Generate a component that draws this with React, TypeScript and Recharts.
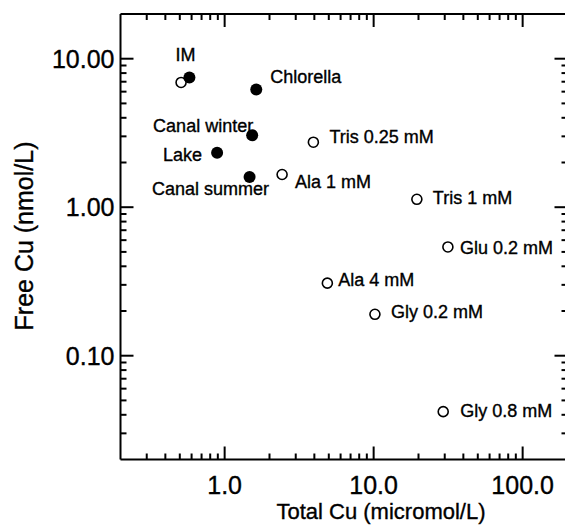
import { ScatterChart, Scatter, XAxis, YAxis } from 'recharts'

// field samples (filled) and ligand solutions (open)
const fieldNames = ['IM', 'Chlorella', 'Canal winter', 'Lake', 'Canal summer']
const fieldTotalCu = [0.58, 1.63, 1.53, 0.89, 1.47]
const fieldFreeCu = [7.47, 6.2, 3.05, 2.33, 1.6]

const ligandNames = ['IM', 'Ala 1 mM', 'Tris 0.25 mM', 'Tris 1 mM', 'Glu 0.2 mM', 'Ala 4 mM', 'Gly 0.2 mM', 'Gly 0.8 mM']
const ligandTotalCu = [0.51, 2.43, 3.94, 19.5, 31.5, 4.89, 10.2, 29.3]
const ligandFreeCu = [6.92, 1.66, 2.74, 1.13, 0.54, 0.308, 0.19, 0.042]

const xMajorTicks = [1, 10, 100]
const xTickLabels = ['1.0', '10.0', '100.0']
const xMinorTicks = [0.3, 0.4, 0.5, 0.6, 0.7, 0.8, 0.9, 2, 3, 4, 5, 6, 7, 8, 9, 20, 30, 40, 50, 60, 70, 80, 90]
const yMajorTicks = [0.1, 1, 10]
const yTickLabels = ['0.10', '1.00', '10.00']
const yMinorTicks = [0.03, 0.04, 0.05, 0.06, 0.07, 0.08, 0.09, 0.2, 0.3, 0.4, 0.5, 0.6, 0.7, 0.8, 0.9, 2, 3, 4, 5, 6, 7, 8, 9]

const fieldData = fieldNames.map((name, i) => ({ name, x: fieldTotalCu[i], y: fieldFreeCu[i] }))
const ligandData = ligandNames.map((name, i) => ({ name, x: ligandTotalCu[i], y: ligandFreeCu[i] }))

const xTicks = [...xMinorTicks, ...xMajorTicks].sort((a, b) => a - b)
const yTicks = [...yMinorTicks, ...yMajorTicks].sort((a, b) => a - b)

// label placement relative to the marker: dx, dy (baseline), anchor
const labelPos: Record<string, [number, number, string]> = {
    'IM': [-4, -17, 'middle'],
    'Chlorella': [14, -7, 'start'],
    'Canal winter': [1, -3, 'end'],
    'Lake': [-15, 8, 'end'],
    'Canal summer': [-39, 18, 'middle'],
    'Ala 1 mM': [13, 13, 'start'],
    'Tris 0.25 mM': [16, 1, 'start'],
    'Tris 1 mM': [16, 5, 'start'],
    'Glu 0.2 mM': [12, 7, 'start'],
    'Ala 4 mM': [11, 3, 'start'],
    'Gly 0.2 mM': [16, 4, 'start'],
    'Gly 0.8 mM': [17, 5, 'start']
}

const FONT = '"Liberation Sans", Arial, sans-serif'
// scanned original looks a touch heavier than plain regular
const txt = { fontFamily: FONT, fill: '#000', stroke: '#000', strokeWidth: 0.35 }

const PointLabel = ({ cx, cy, name }: any) => {
    const pos = labelPos[name]
    if (!pos) return null
    return (
        <text x={cx + pos[0]} y={cy + pos[1]} textAnchor={pos[2] as any} fontSize={18} {...txt}>
            {name}
        </text>
    )
}

const FilledDot = (props: any) => (
    <g>
        <circle cx={props.cx} cy={props.cy} r={6} fill="#000" />
        <PointLabel cx={props.cx} cy={props.cy} name={props.payload.name} />
    </g>
)

const OpenDot = (props: any) => (
    <g>
        <circle cx={props.cx} cy={props.cy} r={5} fill="#fff" stroke="#000" strokeWidth={1.6} />
        {props.payload.name !== 'IM' && <PointLabel cx={props.cx} cy={props.cy} name={props.payload.name} />}
    </g>
)

const tickLen = (major: boolean) => (major ? 13 : 6)

const BottomTick = ({ x, y, payload }: any) => {
    const i = xMajorTicks.indexOf(payload.value)
    const major = i >= 0
    return (
        <g>
            <line x1={x} y1={y} x2={x} y2={y - tickLen(major)} stroke="#000" strokeWidth={2} />
            {major && (
                <text x={x} y={y + 34} textAnchor="middle" fontSize={25} {...txt}>
                    {xTickLabels[i]}
                </text>
            )}
        </g>
    )
}

const TopTick = ({ x, y, payload }: any) => {
    const major = xMajorTicks.includes(payload.value)
    return <line x1={x} y1={y} x2={x} y2={y + tickLen(major)} stroke="#000" strokeWidth={2} />
}

const LeftTick = ({ x, y, payload }: any) => {
    const i = yMajorTicks.indexOf(payload.value)
    const major = i >= 0
    return (
        <g>
            <line x1={x} y1={y} x2={x + tickLen(major)} y2={y} stroke="#000" strokeWidth={2} />
            {major && (
                <text x={x - 6} y={y + 9} textAnchor="end" fontSize={25} {...txt}>
                    {yTickLabels[i]}
                </text>
            )}
        </g>
    )
}

const RightTick = ({ x, y, payload }: any) => {
    const major = yMajorTicks.includes(payload.value)
    return <line x1={x} y1={y} x2={x - tickLen(major)} y2={y} stroke="#000" strokeWidth={2} />
}

const XTitle = () => (
    <text x={381} y={519} textAnchor="middle" fontSize={22} {...txt}>
        Total Cu (micromol/L)
    </text>
)

const YTitle = () => (
    <text transform="translate(33,236) rotate(-90)" x={0} y={0} textAnchor="middle" fontSize={25} {...txt}>
        Free Cu (nmol/L)
    </text>
)

const axisLine = { stroke: '#000', strokeWidth: 2 }

export default function App() {
    return (
        <div style={{ position: 'fixed', left: 0, top: 0, width: 565, height: 530, overflow: 'hidden', background: '#fff' }}>
            <ScatterChart width={580} height={530} margin={{ top: 0, right: 0, bottom: 0, left: 0 }}>
                <XAxis
                    xAxisId="b"
                    type="number"
                    dataKey="x"
                    scale="log"
                    domain={[0.2, 200]}
                    allowDataOverflow
                    ticks={xTicks}
                    interval={0}
                    tickSize={0}
                    tickMargin={0}
                    height={70.5}
                    axisLine={axisLine}
                    tick={BottomTick}
                    label={XTitle}
                />
                <XAxis
                    xAxisId="t"
                    orientation="top"
                    type="number"
                    dataKey="x"
                    scale="log"
                    domain={[0.2, 200]}
                    allowDataOverflow
                    ticks={xTicks}
                    interval={0}
                    tickSize={0}
                    tickMargin={0}
                    height={14}
                    axisLine={axisLine}
                    tick={TopTick}
                />
                <YAxis
                    yAxisId="l"
                    type="number"
                    dataKey="y"
                    scale="log"
                    domain={[0.02, 20]}
                    allowDataOverflow
                    ticks={yTicks}
                    interval={0}
                    tickSize={0}
                    tickMargin={0}
                    width={120.5}
                    axisLine={axisLine}
                    tick={LeftTick}
                    label={YTitle}
                />
                <YAxis
                    yAxisId="r"
                    orientation="right"
                    type="number"
                    dataKey="y"
                    scale="log"
                    domain={[0.02, 20]}
                    allowDataOverflow
                    ticks={yTicks}
                    interval={0}
                    tickSize={0}
                    tickMargin={0}
                    width={12.5}
                    axisLine={axisLine}
                    tick={RightTick}
                />
                <Scatter xAxisId="t" yAxisId="r" data={ligandData} shape={() => <g />} isAnimationActive={false} />
                <Scatter xAxisId="b" yAxisId="l" data={ligandData} shape={OpenDot} isAnimationActive={false} />
                <Scatter xAxisId="b" yAxisId="l" data={fieldData} shape={FilledDot} isAnimationActive={false} />
            </ScatterChart>
        </div>
    )
}
